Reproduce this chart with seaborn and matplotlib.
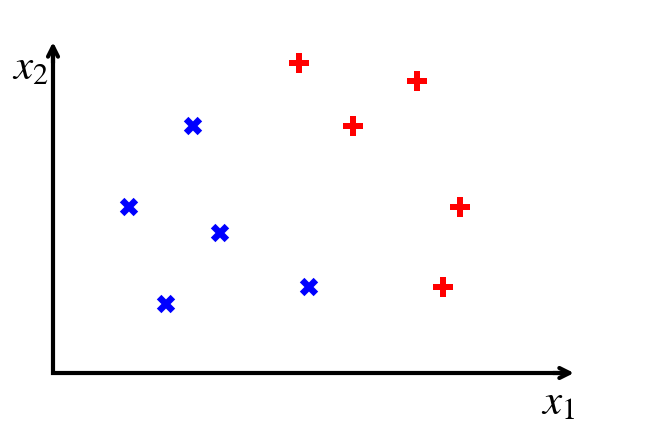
import matplotlib
matplotlib.use("Agg")
import matplotlib.pyplot as plt
import seaborn as sns
import pandas as pd

# data (arbitrary units, origin at axes corner)
blue_x = [140, 76, 167, 113, 256]
blue_y = [247, 166, 140, 69, 86]
red_x = [246, 300, 364, 407, 390]
red_y = [310, 247, 292, 166, 86]

df = pd.DataFrame({
    "x1": blue_x + red_x,
    "x2": blue_y + red_y,
    "cls": ["neg"] * len(blue_x) + ["pos"] * len(red_x),
})

sns.set_theme(style="white")
plt.rcParams["mathtext.fontset"] = "stix"

fig = plt.figure(figsize=(6.48, 4.35), dpi=100)
ax = fig.add_axes([0, 0, 1, 1])

sns.scatterplot(data=df[df.cls == "neg"], x="x1", y="x2", marker="X", s=175,
                color="#0000ff", edgecolor="none", ax=ax, legend=False)
sns.scatterplot(data=df[df.cls == "pos"], x="x1", y="x2", marker="P", s=215,
                color="#ff0000", edgecolor="none", ax=ax, legend=False)

ax.set_xlim(-53, 595)
ax.set_ylim(-61, 374)
ax.set_axis_off()

# axes as an L with mitered corner
ax.plot([0, 0, 515], [326, 0, 0], color="black", lw=3,
        solid_joinstyle="miter", solid_capstyle="butt")
ax.annotate("", xy=(521, 0), xytext=(500, 0),
            arrowprops=dict(arrowstyle="->,head_length=0.6,head_width=0.3", lw=3,
                            color="black", shrinkA=0, shrinkB=0))
ax.annotate("", xy=(0, 331), xytext=(0, 310),
            arrowprops=dict(arrowstyle="->,head_length=0.6,head_width=0.3", lw=3,
                            color="black", shrinkA=0, shrinkB=0))

ax.text(-23, 307, "$x_2$", fontsize=31, ha="center", va="center", color="black")
ax.text(505, -28, "$x_1$", fontsize=31, ha="center", va="center", color="black")

ax.set_xlabel("")
ax.set_ylabel("")
fig.savefig("out.png", dpi=100)
